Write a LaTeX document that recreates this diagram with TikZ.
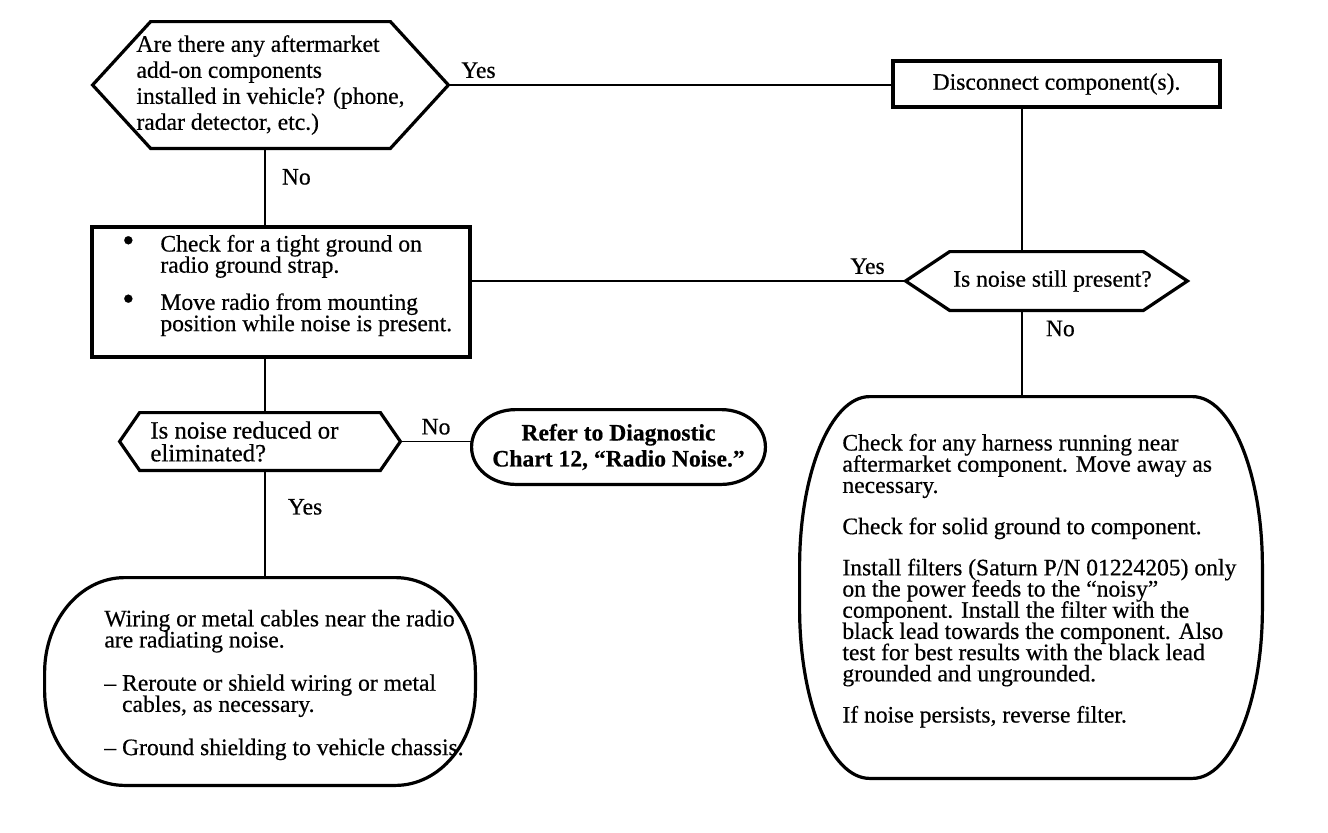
\documentclass[tikz,border=0pt]{standalone}
\usepackage{fontspec}
\setmainfont{Liberation Serif}[FakeBold=0.5]
\usetikzlibrary{positioning}
\newcommand{\chartfont}[1]{\fontsize{11.8pt}{#1}\selectfont\lineskiplimit=-6pt\relax}
\newcommand{\bigdot}{\makebox[19pt][l]{\smash{\fontsize{17pt}{17pt}\selectfont\textbullet}}}
\newcommand{\hexframe}[2]{%
  \draw[edgeline] (#1.west) -- ([xshift=#2]#1.north west) -- ([xshift=-#2]#1.north east)
    -- (#1.east) -- ([xshift=-#2]#1.south east) -- ([xshift=#2]#1.south west) -- cycle;}
\newcommand{\capframe}[3]{%
  \draw[edgeline] ([xshift=#2]#1.north west) -- ([xshift=-#2]#1.north east)
    arc[start angle=90, end angle=0, x radius=#2, y radius=#3] -- ([yshift=#3]#1.south east)
    arc[start angle=0, end angle=-90, x radius=#2, y radius=#3] -- ([xshift=#2]#1.south west)
    arc[start angle=270, end angle=180, x radius=#2, y radius=#3] -- ([yshift=-#3]#1.north west)
    arc[start angle=180, end angle=90, x radius=#2, y radius=#3] -- cycle;}

\begin{document}
\begin{tikzpicture}[x=0.5pt, y=-0.5pt,
    edgeline/.style={line width=1.6pt, line join=miter},
    link/.style={line width=0.9pt},
    hexa/.style={rectangle, align=left, inner sep=0pt, font=\chartfont{10.6pt}},
    boxed/.style={draw, edgeline, rectangle, inner sep=0pt, font=\chartfont{10.6pt}},
    blob/.style={rectangle, inner sep=0pt},
    notetext/.style={align=left, inner sep=0pt, anchor=north west, font=\chartfont{10.6pt}},
    tag/.style={inner sep=3pt, font=\chartfont{12pt}}]
    \useasboundingbox (0,0) rectangle (1328,832);
    \coordinate (lsp) at (265,0);
    \coordinate (rsp) at (1022,0);

    \node[hexa, minimum width=177.5pt, minimum height=63pt, font=\chartfont{13pt}] (q1) at (270.5,85)
        {Are there any aftermarket\\add-on components\\installed in vehicle? (phone,\\radar detector, etc.)};
    \hexframe{q1}{29pt}
    \node[boxed, minimum width=163.5pt, minimum height=23pt] (dis) at (1056.5,84) {Disconnect component(s).};
    \node[hexa, minimum width=140.5pt, minimum height=29pt] (q2) at (1046.5,281) {\hspace*{6pt}Is noise still present?};
    \hexframe{q2}{22pt}

    \node[boxed, minimum width=189pt, minimum height=65pt] (chk) at (281,292) {};
    \node[notetext] (chktxt) at (122,234.5)
        {\bigdot Check for a tight ground on\\
         \hspace*{19pt}radio ground strap.\\[8pt]
         \bigdot Move radio from mounting\\
         \hspace*{19pt}position while noise is present.};

    \node[hexa, minimum width=140pt, minimum height=28.5pt] (q3) at (260,441.5) {};
    \hexframe{q3}{10pt}
    \node[hexa, anchor=west, font=\fontsize{12.4pt}{11.4pt}\selectfont] (q3txt) at (150,441.5)
        {Is noise reduced or\\eliminated?};
    \node[blob, minimum width=146.5pt, minimum height=37pt, align=center, font=\chartfont{13pt}\bfseries] (term) at (618.5,447)
        {Refer to Diagnostic\\Chart 12, “Radio Noise.”};
    \capframe{term}{22pt}{18.5pt}

    \node[blob, minimum width=215pt, minimum height=103.5pt] (wl) at (260,681.5) {};
    \capframe{wl}{40pt}{47.5pt}
    \node[notetext] (wltxt) at (104,609.5)
        {Wiring or metal cables near the radio\\
         are radiating noise.\\[11pt]
         – Reroute or shield wiring or metal\\
         \phantom{– }cables, as necessary.\\[11pt]
         – Ground shielding to vehicle chassis.};

    \node[blob, minimum width=231pt, minimum height=190.5pt] (fix) at (1031,587.5) {};
    \capframe{fix}{35pt}{85pt}
    \node[notetext] (fixtxt) at (842,433.5)
        {Check for any harness running near\\
         aftermarket component. Move away as\\
         necessary.\\[10pt]
         Check for solid ground to component.\\[10pt]
         Install filters (Saturn P/N 01224205) only\\
         on the power feeds to the “noisy”\\
         component. Install the filter with the\\
         black lead towards the component. Also\\
         test for best results with the black lead\\
         grounded and ungrounded.\\[10pt]
         If noise persists, reverse filter.};

    \draw[link] (q1.east) -- node[tag, pos=0, above right, xshift=3pt] {Yes} (q1.east -| dis.west);
    \draw[link] (dis.south -| rsp) -- (q2.north -| rsp);
    \draw[link] (q2.west) -- node[tag, pos=0, above left, xshift=-7pt] {Yes} (q2.west -| chk.east);
    \draw[link] (q1.south -| lsp) -- node[tag, pos=.37, right=5pt] {No} (chk.north -| lsp);
    \draw[link] (chk.south -| lsp) -- (q3.north -| lsp);
    \draw[link] (q3.east) -- node[tag, midway, above] {No} (q3.east -| term.west);
    \draw[link] (q3.south -| lsp) -- node[tag, pos=.34, right=8pt] {Yes} (wl.north -| lsp);
    \draw[link] (q2.south -| rsp) -- node[tag, pos=.21, right=8.5pt] {No} (fix.north -| rsp);
\end{tikzpicture}
\end{document}
